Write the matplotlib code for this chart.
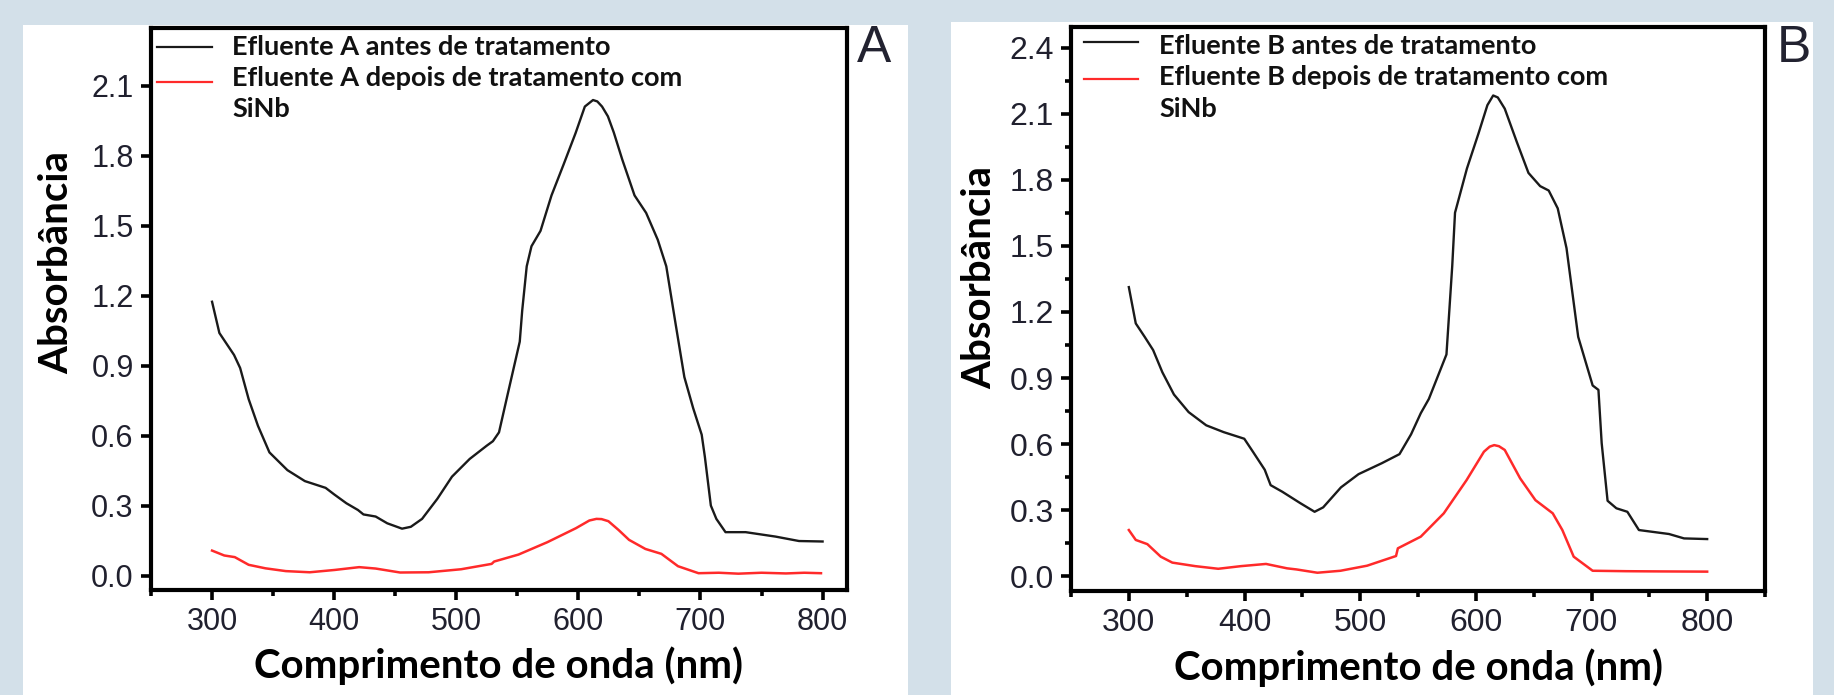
import numpy as np
import matplotlib.pyplot as plt
from matplotlib.patches import Rectangle
from matplotlib.lines import Line2D
from matplotlib.ticker import MultipleLocator


# Panel A - efluente A
wl_a_antes = [300, 306, 318, 323, 330, 337.6, 347, 361.7, 376, 393, 400, 410, 419.5, 424, 434,
              443.5, 455.6, 462.8, 472, 484.5, 496.5, 511, 525, 530, 535, 542, 552, 554, 557.7,
              561.6, 569, 578, 588, 597.7, 605.3, 612, 615.5, 619.4, 624.2, 629, 636, 646,
              655.5, 665, 672, 679.6, 686.8, 694, 701, 703.6, 708.5, 713, 720.5, 737, 761.5,
              780.7, 800]
abs_a_antes = [1.174, 1.04, 0.946, 0.89, 0.756, 0.642, 0.528, 0.452, 0.405, 0.376, 0.348, 0.31,
               0.281, 0.262, 0.253, 0.224, 0.201, 0.209, 0.243, 0.329, 0.424, 0.5, 0.557, 0.576,
               0.614, 0.775, 1.003, 1.136, 1.326, 1.412, 1.478, 1.63, 1.764, 1.897, 2.011,
               2.039, 2.033, 2.011, 1.969, 1.90, 1.783, 1.63, 1.555, 1.44, 1.326, 1.08, 0.851,
               0.718, 0.604, 0.509, 0.30, 0.243, 0.186, 0.186, 0.167, 0.148, 0.146]

wl_a_depois = [300, 310, 318.6, 330, 343.7, 360.4, 380, 400.5, 420.5, 434, 454, 477.4, 504, 529,
               531, 551, 574.6, 598, 609, 614.8, 619, 624.6, 633, 641.5, 654.9, 668, 681.6,
               698.4, 715, 731, 750, 770, 785, 798.7]
abs_a_depois = [0.107, 0.086, 0.079, 0.046, 0.031, 0.019, 0.014, 0.024, 0.036, 0.030, 0.013,
                0.014, 0.027, 0.050, 0.060, 0.09, 0.143, 0.203, 0.236, 0.243, 0.242, 0.233,
                0.195, 0.153, 0.114, 0.093, 0.04, 0.01, 0.012, 0.008, 0.012, 0.009, 0.012,
                0.01]

# Panel B - efluente B
wl_b_antes = [300, 306, 313.7, 321, 329, 339, 351.7, 366.9, 382, 399.8, 407.4, 417.5, 422.6,
              432.7, 448, 460.6, 468, 483.4, 498.6, 518.8, 534, 544, 552.4, 559.4, 574.6, 579.6,
              582, 592.3, 602.4, 610, 615, 619, 625, 635.4, 645.5, 655.6, 663, 670.8, 678.4,
              688.5, 701, 706, 708.8, 713.9, 721.5, 731, 741, 767, 780, 800]
abs_b_antes = [1.313, 1.148, 1.087, 1.027, 0.926, 0.825, 0.745, 0.685, 0.654, 0.624, 0.564,
               0.483, 0.413, 0.383, 0.332, 0.292, 0.312, 0.403, 0.463, 0.513, 0.554, 0.644,
               0.74, 0.805, 1.007, 1.409, 1.651, 1.852, 2.013, 2.14, 2.184, 2.175, 2.124,
               1.973, 1.832, 1.772, 1.752, 1.671, 1.49, 1.087, 0.866, 0.846, 0.604, 0.342,
               0.308, 0.292, 0.209, 0.191, 0.171, 0.168]

wl_b_depois = [300, 306, 316, 327.6, 337.6, 357.4, 377.3, 397, 418.6, 436.8, 445, 463, 483, 506,
               531, 532.6, 552.4, 572.3, 592, 607, 612, 615.9, 620, 625, 638.3, 651.5, 666.5,
               674.8, 684.6, 701, 730, 760, 800]
abs_b_depois = [0.209, 0.164, 0.145, 0.088, 0.061, 0.045, 0.033, 0.045, 0.055, 0.035, 0.03,
                0.015, 0.024, 0.047, 0.091, 0.126, 0.179, 0.285, 0.436, 0.565, 0.588, 0.595,
                0.590, 0.573, 0.444, 0.345, 0.285, 0.209, 0.088, 0.024, 0.022, 0.021, 0.02]

BG = '#d3e0e9'
TICK_COLOR = '#20202e'
BOLD_FONT = ['Lato', 'DejaVu Sans']

fig = plt.figure(figsize=(18.34, 6.95), dpi=100)
fig.patch.set_facecolor(BG)

W, H = 1834, 695


def px_rect(x0, y0, x1, y1):
    """pixel box (top-left origin) -> figure fraction [l, b, w, h]"""
    return [x0 / W, 1 - y1 / H, (x1 - x0) / W, (y1 - y0) / H]


# white panels behind each chart
for box in [(23, 25, 908, 695), (951, 22, 1813, 695)]:
    l, b, w, h = px_rect(*box)
    fig.patches.append(Rectangle((l, b), w, h, transform=fig.transFigure,
                                 facecolor='white', edgecolor='none', zorder=-5))


def draw_panel(box, wl1, ab1, wl2, ab2, xlim, ylim, yticks, ymin_step, tag, letter,
               ylab_pos, leg_px, tick_size):
    ax = fig.add_axes(px_rect(*box))
    ax.set_zorder(2)
    ax.patch.set_alpha(0)
    ax.plot(wl1, ab1, color='#1a1a1a', lw=1.7)
    ax.plot(wl2, ab2, color='#ff2a2a', lw=1.8)
    ax.set_xlim(*xlim)
    ax.set_ylim(*ylim)
    ax.set_xticks([300, 400, 500, 600, 700, 800])
    ax.xaxis.set_minor_locator(MultipleLocator(50))
    ax.set_yticks(yticks)
    ax.set_yticklabels([f'{v:.1f}' for v in yticks])
    if ymin_step:
        ax.yaxis.set_minor_locator(MultipleLocator(ymin_step))
    for s in ax.spines.values():
        s.set_linewidth(3)
    ax.tick_params(which='major', direction='out', length=7.5, width=2.6,
                   labelsize=tick_size, labelcolor=TICK_COLOR, pad=5)
    ax.tick_params(which='minor', direction='out', length=4, width=2.6)
    for t in ax.get_xticklabels() + ax.get_yticklabels():
        t.set_family(['Liberation Sans', 'DejaVu Sans'])

    ax.text(0.5, -0.135, 'Comprimento de onda (nm)', transform=ax.transAxes,
            ha='center', va='center', fontsize=29, fontweight='bold', family=BOLD_FONT)
    ax.text(ylab_pos[0], ylab_pos[1], 'Absorbância', transform=ax.transAxes, rotation=90,
            ha='center', va='center', fontsize=29, fontweight='bold', family=BOLD_FONT)

    # legend drawn by hand so the handle sits next to the first line of text
    hx0, hx1, tx, ys, bases = leg_px
    labels = [f'Efluente {tag} antes de tratamento',
              f'Efluente {tag} depois de tratamento com', 'SiNb']
    for y, c in zip(ys, ['#1a1a1a', '#ff2a2a']):
        fig.add_artist(Line2D([hx0 / W, hx1 / W], [1 - y / H, 1 - y / H],
                              transform=fig.transFigure, color=c, lw=1.6))
    for lab, yb in zip(labels, bases):
        fig.text(tx / W, 1 - yb / H, lab, ha='left', va='baseline', fontsize=19.5,
                 fontweight='bold', family=BOLD_FONT, color='#111111')

    fig.text(letter[0] / W, 1 - letter[1] / H, letter[2], ha='left', va='top', fontsize=37,
             color='#222230', family=['Liberation Sans', 'DejaVu Sans'])
    return ax


# A
draw_panel((151, 27.5, 847, 590), wl_a_antes, abs_a_antes, wl_a_depois, abs_a_depois,
           (250, 820), (-0.062, 2.35), [0.0, 0.3, 0.6, 0.9, 1.2, 1.5, 1.8, 2.1], None, 'A',
           (857, 24, 'A'), (-0.136, 0.583),
           (157, 212, 232, [47, 82], [55, 86, 117]), 22)

# B
draw_panel((1071, 26.6, 1765, 591), wl_b_antes, abs_b_antes, wl_b_depois, abs_b_depois,
           (250, 850), (-0.068, 2.497), [0.0, 0.3, 0.6, 0.9, 1.2, 1.5, 1.8, 2.1, 2.4], 0.15,
           'B', (1777, 24, 'B'), (-0.132, 0.555),
           (1084, 1138, 1159, [42, 79], [54, 85, 117]), 23)

plt.savefig('out.png', dpi=100, facecolor=BG)
